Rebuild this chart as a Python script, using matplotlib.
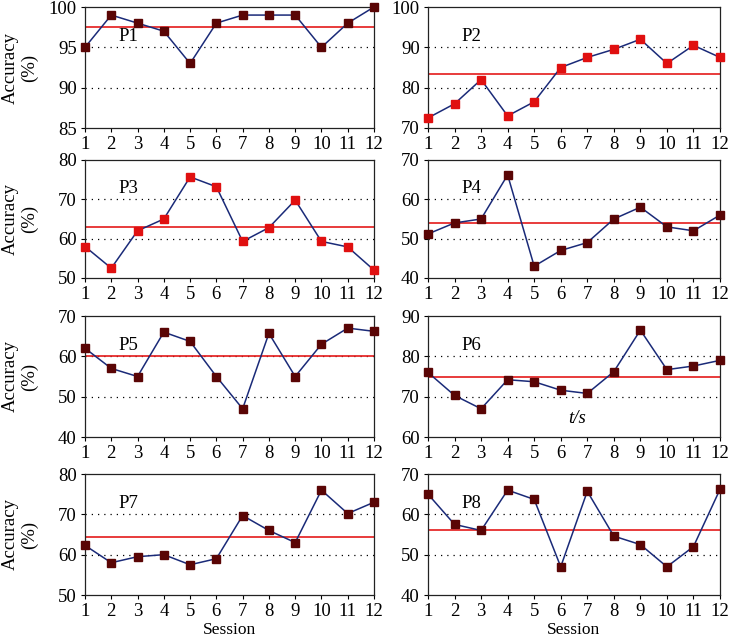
import matplotlib.pyplot as plt
import numpy as np

plt.rcParams['font.family'] = ['Liberation Serif', 'DejaVu Serif']

sessions = np.arange(1, 13)

p1 = [95, 99, 98, 97, 93, 98, 99, 99, 99, 95, 98, 100]
p2 = [72.5, 76, 82, 73, 76.5, 85, 87.5, 89.5, 92, 86, 90.5, 87.5]
p3 = [58, 52.5, 62, 65, 75.7, 73.2, 59.3, 62.8, 69.8, 59.3, 57.9, 52]
p4 = [51.2, 54, 55, 66.2, 43, 47, 49, 55, 58, 53, 52, 56]
p5 = [62, 57, 55, 66, 63.7, 55, 47, 65.7, 55, 63, 67, 66.2]
p6 = [76, 70.3, 67, 74.2, 73.7, 71.6, 70.8, 76.2, 86.5, 76.7, 77.6, 79]
p7 = [62.3, 58, 59.5, 60, 57.5, 59, 69.7, 66, 63, 76, 70.2, 73]
p8 = [65, 57.5, 56, 66, 63.7, 47, 65.7, 54.6, 52.5, 47, 52, 66.2]

series = [p1, p2, p3, p4, p5, p6, p7, p8]
names = ['P1', 'P2', 'P3', 'P4', 'P5', 'P6', 'P7', 'P8']
means = [97.5, 83.3, 62.9, 53.9, 60.1, 74.8, 64.5, 56.1]
ylims = [(85, 100), (70, 100), (50, 80), (40, 70),
         (40, 70), (60, 90), (50, 80), (40, 70)]
ysteps = [5, 10, 10, 10, 10, 10, 10, 10]

DARK = '#5a0505'
RED_M = '#e01010'
marker_cols = [DARK, RED_M, RED_M, DARK, DARK, DARK, DARK, DARK]

W, H = 730, 642
# panel boxes in pixels: left, top, right, bottom
cols = [(85, 374), (428, 720)]
rows = [(7, 128), (160, 278), (316, 437), (474, 595)]

fig = plt.figure(figsize=(W / 100, H / 100), dpi=100)

for k in range(8):
    r, c = divmod(k, 2)
    x0, x1 = cols[c]
    y0, y1 = rows[r]
    ax = fig.add_axes([x0 / W, 1 - y1 / H, (x1 - x0) / W, (y1 - y0) / H])
    lo, hi = ylims[k]
    step = ysteps[k]
    for g in np.arange(lo + step, hi, step):
        ax.axhline(g, color='black', lw=0.9, ls=(0, (1, 4)), zorder=1)
    ax.axhline(means[k], color='#e41a1a', lw=1.2, zorder=2)
    ax.plot(sessions, series[k], color='#1a2a78', lw=1.1, zorder=3,
            marker='s', markersize=5.2, markerfacecolor=marker_cols[k],
            markeredgecolor=marker_cols[k], clip_on=False)
    ax.set_xlim(1, 12)
    ax.set_ylim(lo, hi)
    ax.set_xticks(sessions)
    ax.set_yticks(np.arange(lo, hi + 0.1, step))
    ax.tick_params(labelsize=13.5, length=3, width=0.8, direction='out', pad=3)
    for s in ax.spines.values():
        s.set_linewidth(0.9)
        s.set_color('#222222')
    ax.text(0.115, 0.76, names[k], transform=ax.transAxes, fontsize=13.5,
            va='center', ha='left')
    if c == 0:
        fig.text(20 / W, 1 - (y0 + y1) / 2 / H, 'Accuracy\n(%)', fontsize=13.5,
                 rotation=90, ha='center', va='center', linespacing=1.1)
    if r == 3:
        ax.set_xlabel('Session', fontsize=12.5, labelpad=1)
    if k == 5:
        ax.text(6.6, 64.6, 't/s', style='italic', fontsize=13.5,
                ha='center', va='center')

fig.savefig('out.png', dpi=100)
